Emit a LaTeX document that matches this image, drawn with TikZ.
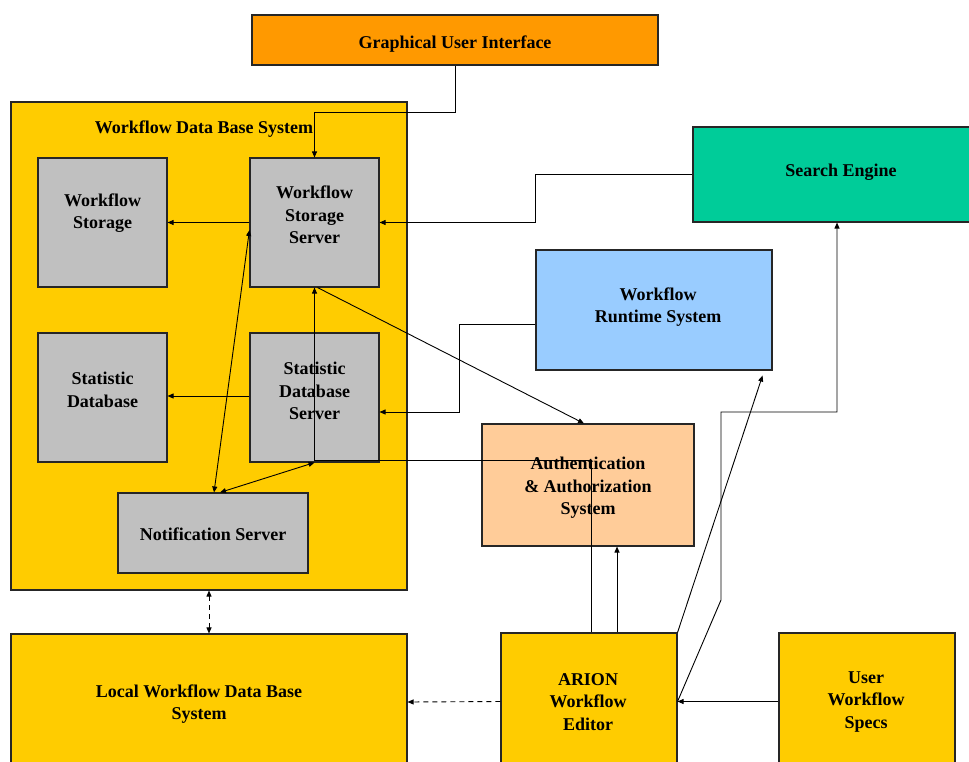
\documentclass[tikz,border=0pt]{standalone}
\usepackage{fontspec}
\setmainfont{Liberation Serif}
\usetikzlibrary{arrows.meta}
\definecolor{guiorange}{HTML}{FF9900}
\definecolor{sysyellow}{HTML}{FFCC00}
\definecolor{boxgray}{HTML}{C0C0C0}
\definecolor{seagreen}{HTML}{00CC99}
\definecolor{skyblue}{HTML}{99CCFF}
\definecolor{peach}{HTML}{FFCC99}
\begin{document}
\begin{tikzpicture}[x=1pt,y=-1pt,
  box/.style={draw=black!85,line width=1.1pt,inner sep=0pt},
  txt/.style={font=\fontsize{18}{22.5}\selectfont\bfseries,align=center,inner sep=0pt},
  conn/.style={draw=black,line width=0.9pt,-{Triangle[length=6pt,width=5pt]}},
  conn2/.style={conn,{Triangle[length=6pt,width=5pt]}-{Triangle[length=6pt,width=5pt]}},
  dashconn/.style={conn,dash pattern=on 5pt off 4pt}]
\useasboundingbox (0,0) rectangle (969,762);
\clip (0,0) rectangle (969,762);
% boxes
\node[box,fill=guiorange,minimum width=406pt,minimum height=50pt] (gui) at (455,40) {};
\node[box,fill=sysyellow,minimum width=396pt,minimum height=488pt] (wdbs) at (209,346) {};
\node[box,fill=boxgray,minimum width=129pt,minimum height=129pt] (ws) at (102.5,222.5) {};
\node[box,fill=boxgray,minimum width=129pt,minimum height=129pt] (wss) at (314.5,222.5) {};
\node[box,fill=boxgray,minimum width=129pt,minimum height=129pt] (sd) at (102.5,397.5) {};
\node[box,fill=boxgray,minimum width=129pt,minimum height=129pt] (sds) at (314.5,397.5) {};
\node[box,fill=boxgray,minimum width=190pt,minimum height=80pt] (ns) at (213,533) {};
\node[box,fill=seagreen,minimum width=282pt,minimum height=95pt] (se) at (834,174.5) {};
\node[box,fill=skyblue,minimum width=236pt,minimum height=120pt] (wrs) at (654,310) {};
\node[box,fill=peach,minimum width=212pt,minimum height=122pt] (auth) at (588,485) {};
\node[box,fill=sysyellow,minimum width=396pt,minimum height=136pt] (local) at (209,702) {};
\node[box,fill=sysyellow,minimum width=176pt,minimum height=137pt] (arion) at (589,701.5) {};
\node[box,fill=sysyellow,minimum width=176pt,minimum height=137pt] (uws) at (867,701.5) {};
% bend points
\coordinate (g1) at (455,112);
\coordinate (g2) at (314.5,112);
\coordinate (r1) at (459,324);
\coordinate (r2) at (459,412);
\coordinate (a1) at (591.5,460);
\coordinate (a2) at (314.5,460);
\coordinate (e1) at (721,600);
\coordinate (e2) at (721,412);
\coordinate (e3) at (837,412);
% connectors
\draw[conn] (gui.south) -- (g1) -- (g2) -- (wss.north);
\draw[conn] (se.west) -- (se.west -| wrs.west) -- (wss.east -| wrs.west) -- (wss.east);
\draw[conn] ([yshift=-14pt]wrs.west) -- (r1) -- (r2) -- ([yshift=-14.5pt]sds.east);
\draw[conn] (wss.west) -- (ws.east);
\draw[conn] ([yshift=1.5pt]sds.west) -- ([yshift=1.5pt]sd.east);
\draw[conn2] ([yshift=-7.5pt]wss.west) -- ([xshift=1pt]ns.north);
\draw[conn2] ([xshift=7pt]ns.north) -- (sds.south);
\draw[conn] ([xshift=2.5pt]arion.north) -- (a1) -- (a2) -- (wss.south);
\draw[conn] ([xshift=3pt]wss.south) -- ([xshift=-4pt]auth.north);
\draw[conn] ([xshift=28pt]arion.north) -- ([xshift=28pt]arion.north |- auth.south);
\draw[conn] (arion.north east) -- ([xshift=-10pt,yshift=-5pt]wrs.south east);
\draw[conn] (arion.east) -- (e1) -- (e2) -- (e3) -- (e3 |- se.south);
\draw[conn] (uws.west) -- (arion.east);
\draw[dashconn] (arion.west) -- (local.east);
\draw[dashconn,{Triangle[length=6pt,width=5pt]}-{Triangle[length=6pt,width=5pt]}] (wdbs.south) -- (local.north);
% texts
\node[txt] (tgui) at (455,44) {Graphical User Interface};
\node[txt] (twdbs) at (204,129) {Workflow Data Base System};
\node[txt] (tws) at (102.5,213) {Workflow\\Storage};
\node[txt] (twss) at (314.5,215) {Workflow\\Storage\\Server};
\node[txt] (tsd) at (102.5,390) {Statistic\\Database};
\node[txt] (tsds) at (314.5,391) {Statistic\\Database\\Server};
\node[txt] (tns) at (213,534) {Notification Server};
\node[txt] (tse) at (841,172) {Search Engine};
\node[txt] (twrs) at (658,307) {Workflow\\Runtime System};
\node[txt] (tauth) at (588,488) {Authentication\\\& Authorization\\System};
\node[txt] (tlocal) at (199,704) {Local Workflow Data Base\\System};
\node[txt] (tarion) at (588,702) {ARION\\Workflow\\Editor};
\node[txt] (tuws) at (866,702) {User\\Workflow\\Specs};
\end{tikzpicture}
\end{document}
